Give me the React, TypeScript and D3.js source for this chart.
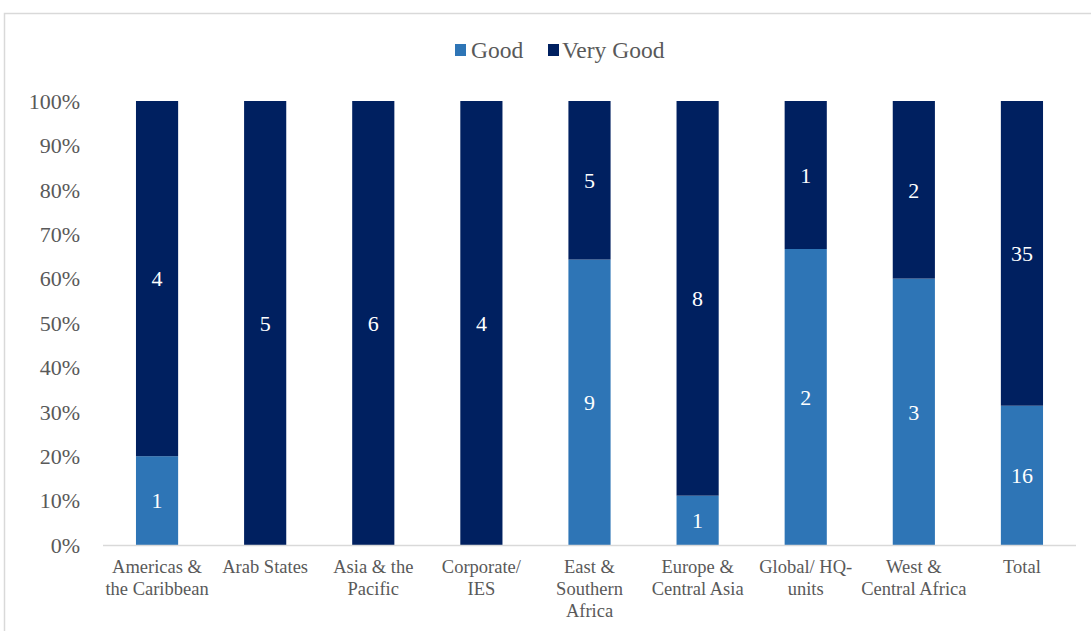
import React, { useEffect } from "react";
import * as d3 from "d3";

const categories: string[][] = [
  ["Americas &", "the Caribbean"],
  ["Arab States"],
  ["Asia & the", "Pacific"],
  ["Corporate/", "IES"],
  ["East &", "Southern", "Africa"],
  ["Europe &", "Central Asia"],
  ["Global/ HQ-", "units"],
  ["West &", "Central Africa"],
  ["Total"],
];
const goodValues = [1, 0, 0, 0, 9, 1, 2, 3, 16];
const veryGoodValues = [4, 5, 6, 4, 5, 8, 1, 2, 35];
const yTicks = [0, 0.1, 0.2, 0.3, 0.4, 0.5, 0.6, 0.7, 0.8, 0.9, 1];
const seriesNames = ["Good", "Very Good"];
const colors = ["#2E75B6", "#002060"];

const W = 1091;
const H = 631;
const FONT = "Liberation Serif";

export default function App() {
  useEffect(() => {
    document.body.style.margin = "0";
  }, []);

  const x = d3
    .scaleBand<number>()
    .domain(categories.map((_, i) => i))
    .range([103, 1076])
    .paddingInner(0.61)
    .paddingOuter(0.305);
  const y = d3.scaleLinear().domain([0, 1]).range([545, 101]);

  const rows = categories.map((_, i) => {
    const total = goodValues[i] + veryGoodValues[i];
    return { i, good: goodValues[i] / total, veryGood: veryGoodValues[i] / total };
  });
  const stack = d3.stack<any>().keys(["good", "veryGood"]);
  const stacked = stack(rows);
  const rawVals = [goodValues, veryGoodValues];

  return (
    <svg width={W} height={H} style={{ display: "block" }} fontFamily={FONT}>
      <rect x={4.5} y={13.5} width={1100} height={700} fill="#fff" stroke="#d9d9d9" strokeWidth={1.5} />
      {/* legend */}
      <g>
        <rect x={455} y={44} width={11} height={12} fill={colors[0]} />
        <text x={471} y={58} fontSize={23.5} fontFamily={FONT} fill="#595959">{seriesNames[0]}</text>
        <rect x={548} y={44} width={11} height={12} fill={colors[1]} />
        <text x={562} y={58} fontSize={23.5} fontFamily={FONT} fill="#595959">{seriesNames[1]}</text>
      </g>
      {/* y ticks */}
      {yTicks.map((t) => (
        <text key={t} x={80} y={y(t)} dy="0.35em" textAnchor="end" fontSize={22} fontFamily={FONT} fill="#595959">
          {d3.format(".0%")(t)}
        </text>
      ))}
      {/* bars */}
      {stacked.map((s, si) => (
        <g key={si}>
          {s.map((d: any, i: number) => {
            const h = y(d[0]) - y(d[1]);
            if (h <= 0) return null;
            return (
              <g key={i}>
                <rect x={x(i)} y={y(d[1])} width={x.bandwidth()} height={h} fill={colors[si]} />
                <text
                  x={(x(i) as number) + x.bandwidth() / 2}
                  y={y((d[0] + d[1]) / 2)}
                  dy="0.35em"
                  textAnchor="middle"
                  fontSize={22}
                  fontFamily={FONT}
                  fill="#fff"
                >
                  {rawVals[si][i]}
                </text>
              </g>
            );
          })}
        </g>
      ))}
      {/* x axis */}
      <line x1={103} x2={1076} y1={545.5} y2={545.5} stroke="#d9d9d9" strokeWidth={1.5} />
      {categories.map((lines, i) => (
        <text
          key={i}
          x={(x(i) as number) + x.bandwidth() / 2}
          y={573}
          textAnchor="middle"
          fontSize={18.5}
          fontFamily={FONT}
          fill="#595959"
        >
          {lines.map((l, li) => (
            <tspan key={li} x={(x(i) as number) + x.bandwidth() / 2} dy={li === 0 ? 0 : 22}>
              {l}
            </tspan>
          ))}
        </text>
      ))}
    </svg>
  );
}
